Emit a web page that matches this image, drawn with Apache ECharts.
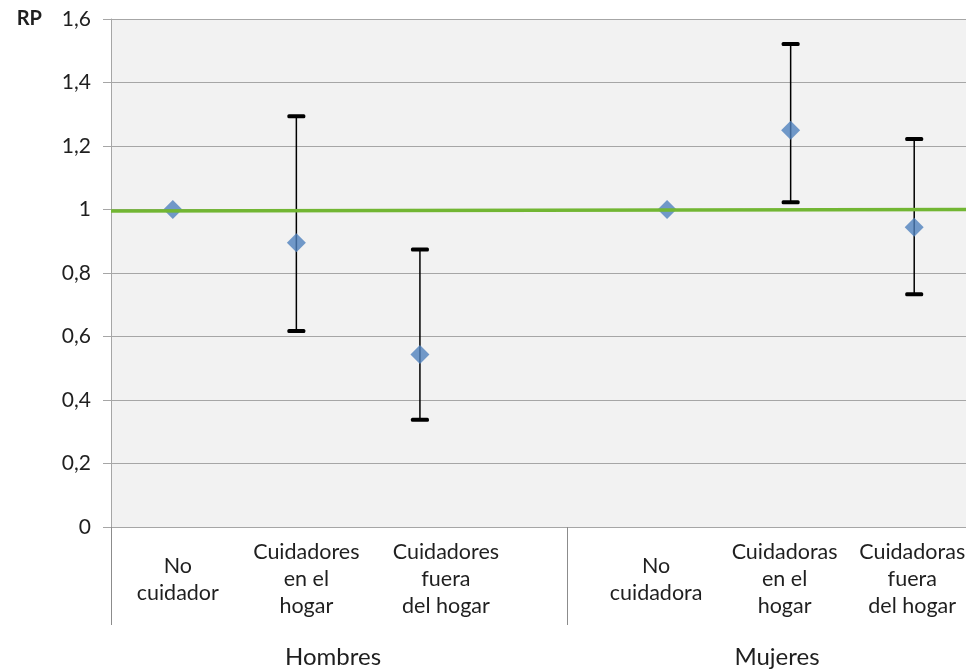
<!DOCTYPE html>
<html>
<head>
<meta charset="utf-8">
<script src="https://cdn.jsdelivr.net/npm/echarts@6/dist/echarts.min.js"></script>
<style>
html,body{margin:0;padding:0;background:#fff;overflow:hidden;}
#chart{width:966px;height:670px;}
</style>
</head>
<body>
<div id="chart"></div>
<script>
// ---- data ----
const categories = ['No\ncuidador', 'Cuidadores\nen el\nhogar', 'Cuidadores\nfuera\ndel hogar', '', 'No\ncuidadora', 'Cuidadoras\nen el\nhogar', 'Cuidadoras\nfuera\ndel hogar'];
const groups = ['Hombres', 'Mujeres'];
const rpValues = [1.0, 0.895, 0.543, null, 1.0, 1.25, 0.944];
const ciLower = [null, 0.617, 0.338, null, null, 1.023, 0.733];
const ciUpper = [null, 1.294, 0.874, null, null, 1.521, 1.222];
const trendLine = [0.995, 1.0];
const yMin = 0, yMax = 1.6, yStep = 0.2;

// ---- style (label nudges, px) ----
const labelShift = [5, 10, 26, 0, -11, -6, -2];
const groupShift = [-6, -18];
const FONT = 'Lato';
const LINE_H = 27;

function labelPad(text, s) {
  const lines = text ? text.split('\n').length : 3;
  const top = (3 - lines) * LINE_H / 2;
  return s >= 0 ? [top, 0, 0, 2 * s] : [top, -2 * s, 0, 0];
}

const chart = echarts.init(document.getElementById('chart'), null, {renderer: 'canvas'});

const errData = [];
for (let i = 0; i < categories.length; i++) {
  if (ciLower[i] != null && ciUpper[i] != null) errData.push([i, ciLower[i], ciUpper[i]]);
}

const option = {
  animation: false,
  backgroundColor: '#ffffff',
  grid: [
    {left: 111, top: 19, width: 865, height: 508, show: true, backgroundColor: '#F2F2F2', borderWidth: 0,
     containLabel: false, outerBoundsMode: 'none'},
    {left: 111, top: 19, width: 912, height: 508, show: false, containLabel: false, outerBoundsMode: 'none'}
  ],
  xAxis: [
    {
      type: 'category', gridIndex: 0,
      data: categories.map((c, i) => ({value: c, textStyle: {padding: labelPad(c, labelShift[i])}})),
      axisLine: {show: true, lineStyle: {color: '#A6A6A6', width: 1}},
      axisTick: {show: false},
      splitLine: {show: false},
      axisLabel: {interval: 0, margin: 12, verticalAlign: 'top', align: 'center', lineHeight: LINE_H,
                  fontSize: 21.5, fontFamily: FONT, color: '#1f1f1f'}
    },
    {type: 'value', gridIndex: 0, min: 0, max: 1, show: false},
    {
      type: 'category', gridIndex: 1, position: 'bottom',
      data: groups.map((g, i) => ({value: g, textStyle: {padding: groupShift[i] >= 0 ? [0, 0, 0, 2 * groupShift[i]] : [0, -2 * groupShift[i], 0, 0]}})),
      axisLine: {show: false},
      axisTick: {show: true, length: 98, lineStyle: {color: '#8C8C8C', width: 1}},
      splitLine: {show: false},
      axisLabel: {interval: 0, margin: 118, verticalAlign: 'top', fontSize: 24, fontFamily: FONT, color: '#1f1f1f'}
    }
  ],
  yAxis: [
    {
      type: 'value', gridIndex: 0, min: yMin, max: yMax, interval: yStep,
      name: 'RP', nameLocation: 'end', nameGap: 0,
      nameTextStyle: {fontFamily: FONT, fontSize: 20, fontWeight: 'bold', color: '#1f1f1f',
                      align: 'right', verticalAlign: 'middle', padding: [0, 69, 0, 0]},
      axisLine: {show: true, lineStyle: {color: '#A6A6A6', width: 1}},
      axisTick: {show: true, length: 8, lineStyle: {color: '#A6A6A6'}},
      splitLine: {show: true, lineStyle: {color: '#A6A6A6', width: 1}},
      axisLabel: {margin: 20, fontSize: 21, fontFamily: FONT, color: '#1f1f1f',
                  formatter: v => String(Math.round(v * 10) / 10).replace('.', ',')}
    },
    {type: 'value', gridIndex: 1, min: yMin, max: yMax, show: false}
  ],
  series: [
    {
      type: 'custom', xAxisIndex: 0, yAxisIndex: 0, z: 2,
      data: errData,
      renderItem: function (params, api) {
        const x = api.value(0);
        const lo = api.coord([x, api.value(1)]);
        const hi = api.coord([x, api.value(2)]);
        const capW = 18, capH = 4;
        return {
          type: 'group',
          children: [
            {type: 'line', shape: {x1: lo[0], y1: lo[1], x2: hi[0], y2: hi[1]}, style: {stroke: '#000', lineWidth: 1.5}},
            {type: 'rect', shape: {x: hi[0] - capW / 2, y: hi[1] - capH / 2, width: capW, height: capH, r: 1.5}, style: {fill: '#000'}},
            {type: 'rect', shape: {x: lo[0] - capW / 2, y: lo[1] - capH / 2, width: capW, height: capH, r: 1.5}, style: {fill: '#000'}}
          ]
        };
      }
    },
    {
      type: 'scatter', xAxisIndex: 0, yAxisIndex: 0, z: 3,
      data: rpValues,
      symbol: 'diamond', symbolSize: 19,
      itemStyle: {color: '#4F81BD'}
    },
    {
      type: 'line', xAxisIndex: 1, yAxisIndex: 0, z: 4,
      data: [[0, trendLine[0]], [1, trendLine[1]]],
      showSymbol: false, symbol: 'none',
      lineStyle: {color: '#72B633', width: 3.5}
    }
  ]
};
chart.setOption(option);
</script>
</body>
</html>
